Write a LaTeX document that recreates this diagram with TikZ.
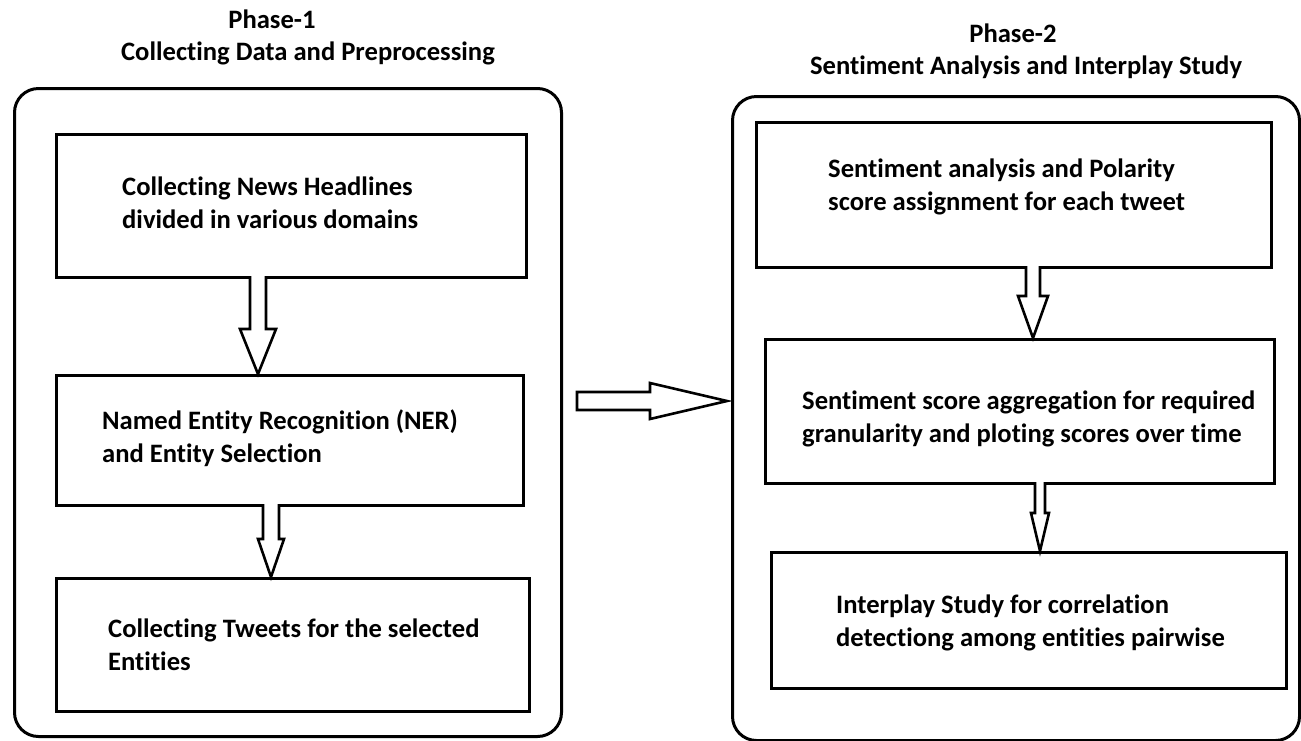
\documentclass[tikz,border=0pt]{standalone}
\usepackage{fontspec}
\setmainfont{Carlito}[Ligatures=NoCommon]
\usetikzlibrary{calc}
% hollow block arrow pointing down: #1 start, #2 tip, #3 half shaft, #4 half head, #5 head length
\newcommand\hollowdown[5]{%
  \draw[hollow] let \p1=(#1), \p2=(#2) in
    (\x1-#3,\y1) -- (\x1-#3,\y2+#5) -- (\x1-#4,\y2+#5) -- (\x1,\y2)
    -- (\x1+#4,\y2+#5) -- (\x1+#3,\y2+#5) -- (\x1+#3,\y1);}
\begin{document}
\begin{tikzpicture}[x=1pt,y=1pt,
  outer/.style={draw, line width=3pt, rounded corners=24pt, anchor=north west, inner sep=0pt},
  box/.style={draw, line width=2.6pt, anchor=north west, inner sep=0pt},
  txt/.style={anchor=west, align=left, inner sep=0pt,
              font=\bfseries\fontsize{26.6}{33}\selectfont},
  ttl/.style={inner sep=0pt, font=\bfseries\fontsize{26.6}{33}\selectfont},
  hollow/.style={draw, line width=2.6pt, line join=miter, fill=white}]
\useasboundingbox (0,0) rectangle (1301,-740);

% phase titles
\node[ttl] (t1a) at (272,-19) {Phase-1};
\node[ttl] (t1b) at (308,-53) {Collecting Data and Preprocessing};
\node[ttl] (t2a) at (1013,-33) {Phase-2};
\node[ttl] (t2b) at (1026,-67) {Sentiment Analysis and Interplay Study};

% phase frames
\node[outer, minimum width=547, minimum height=648] (P1) at (13,-87) {};
\node[outer, minimum width=567, minimum height=644] (P2) at (731,-95) {};

% phase 1 steps
\node[box, minimum width=470, minimum height=143] (A) at (55,-133) {};
\node[box, minimum width=467, minimum height=130] (B) at (55,-374) {};
\node[box, minimum width=473, minimum height=133] (C) at (55,-577) {};
\node[txt] (tA) at (122,-203) {Collecting News Headlines\\divided in various domains};
\node[txt] (tB) at (102,-438) {Named Entity Recognition (NER)\\and Entity Selection};
\node[txt] (tC) at (108,-645) {Collecting Tweets for the selected\\Entities};

% phase 2 steps
\node[box, minimum width=515, minimum height=145] (D) at (755,-121) {};
\node[box, minimum width=509, minimum height=144] (E) at (764,-338) {};
\node[box, minimum width=515, minimum height=136] (F) at (770,-551) {};
\node[txt] (tD) at (828,-187) {Sentiment analysis and Polarity\\score assignment for each tweet};
\node[txt] (tE) at (802,-419) {Sentiment score aggregation for required\\granularity and ploting scores over time};
\node[txt] (tF) at (836,-623) {Interplay Study for correlation\\detectiong among entities pairwise};

% arrows between steps
\coordinate (a1) at (258,-276); \coordinate (a2) at (258,-374);
\hollowdown{a1}{a2}{8}{18}{45}
\coordinate (b1) at (271,-504); \coordinate (b2) at (271,-577);
\hollowdown{b1}{b2}{8}{13}{38}
\coordinate (d1) at (1033,-266); \coordinate (d2) at (1033,-338);
\hollowdown{d1}{d2}{7}{15}{42}
\coordinate (e1) at (1040,-482); \coordinate (e2) at (1040,-551);
\hollowdown{e1}{e2}{5}{9}{38}

% arrow from phase 1 to phase 2
\draw[hollow] let \p1=(P1.east), \p2=(P2.west) in
  (577,-392) -- (650,-392) -- (650,-383) -- (\x2-4,-401) -- (650,-419)
  -- (650,-410) -- (577,-410) -- cycle;
\end{tikzpicture}
\end{document}
